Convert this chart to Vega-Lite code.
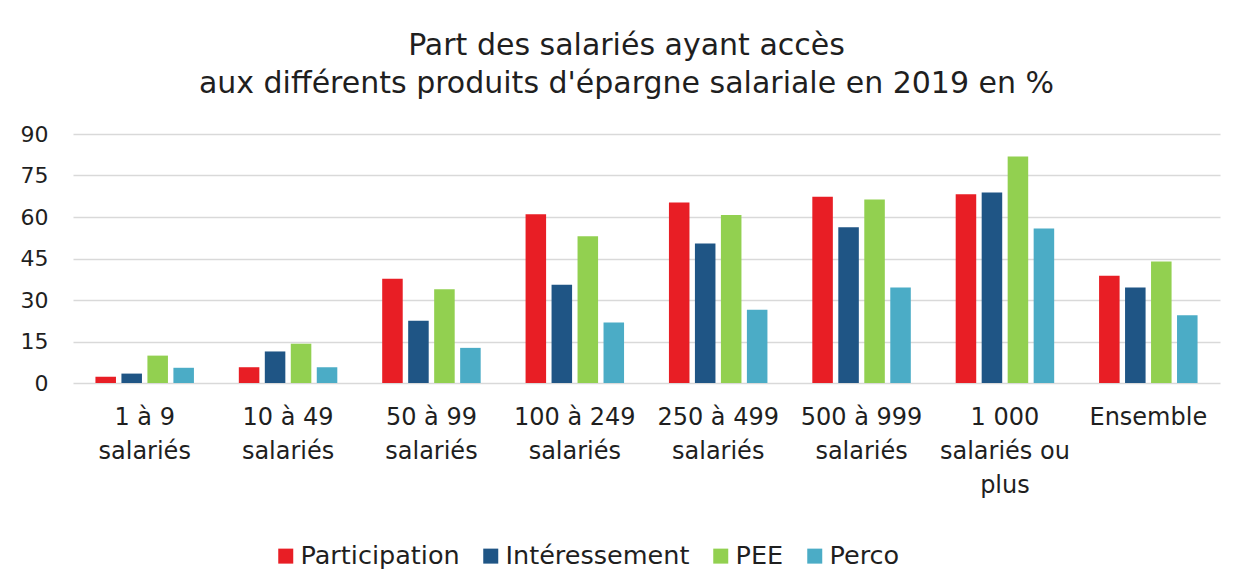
{
  "$schema": "https://vega.github.io/schema/vega-lite/v6.json",
  "width": 1147,
  "height": 249,
  "autosize": {"type": "none"},
  "padding": {"left": 73, "top": 134, "right": 30, "bottom": 193},
  "background": "white",
  "title": {
    "text": ["Part des salariés ayant accès", "aux différents produits d'épargne salariale en 2019 en %"],
    "font": "DejaVu Sans",
    "fontSize": 30,
    "fontWeight": "normal",
    "color": "#1f1f1f",
    "lineHeight": 38,
    "anchor": "middle",
    "dx": -20,
    "offset": 24
  },
  "data": {
    "values": [
      {"taille": "1 à 9 salariés", "produit": "Participation", "part": 2.3},
      {"taille": "1 à 9 salariés", "produit": "Intéressement", "part": 3.4},
      {"taille": "1 à 9 salariés", "produit": "PEE", "part": 9.9},
      {"taille": "1 à 9 salariés", "produit": "Perco", "part": 5.5},
      {"taille": "10 à 49 salariés", "produit": "Participation", "part": 5.7},
      {"taille": "10 à 49 salariés", "produit": "Intéressement", "part": 11.4},
      {"taille": "10 à 49 salariés", "produit": "PEE", "part": 14.2},
      {"taille": "10 à 49 salariés", "produit": "Perco", "part": 5.7},
      {"taille": "50 à 99 salariés", "produit": "Participation", "part": 37.7},
      {"taille": "50 à 99 salariés", "produit": "Intéressement", "part": 22.5},
      {"taille": "50 à 99 salariés", "produit": "PEE", "part": 33.9},
      {"taille": "50 à 99 salariés", "produit": "Perco", "part": 12.7},
      {"taille": "100 à 249 salariés", "produit": "Participation", "part": 61.0},
      {"taille": "100 à 249 salariés", "produit": "Intéressement", "part": 35.5},
      {"taille": "100 à 249 salariés", "produit": "PEE", "part": 53.0},
      {"taille": "100 à 249 salariés", "produit": "Perco", "part": 21.9},
      {"taille": "250 à 499 salariés", "produit": "Participation", "part": 65.2},
      {"taille": "250 à 499 salariés", "produit": "Intéressement", "part": 50.4},
      {"taille": "250 à 499 salariés", "produit": "PEE", "part": 60.7},
      {"taille": "250 à 499 salariés", "produit": "Perco", "part": 26.5},
      {"taille": "500 à 999 salariés", "produit": "Participation", "part": 67.3},
      {"taille": "500 à 999 salariés", "produit": "Intéressement", "part": 56.3},
      {"taille": "500 à 999 salariés", "produit": "PEE", "part": 66.3},
      {"taille": "500 à 999 salariés", "produit": "Perco", "part": 34.5},
      {"taille": "1 000 salariés ou plus", "produit": "Participation", "part": 68.2},
      {"taille": "1 000 salariés ou plus", "produit": "Intéressement", "part": 68.9},
      {"taille": "1 000 salariés ou plus", "produit": "PEE", "part": 81.9},
      {"taille": "1 000 salariés ou plus", "produit": "Perco", "part": 55.8},
      {"taille": "Ensemble", "produit": "Participation", "part": 38.8},
      {"taille": "Ensemble", "produit": "Intéressement", "part": 34.5},
      {"taille": "Ensemble", "produit": "PEE", "part": 43.9},
      {"taille": "Ensemble", "produit": "Perco", "part": 24.5}
    ]
  },
  "mark": {"type": "bar"},
  "encoding": {
    "x": {
      "field": "taille",
      "type": "nominal",
      "sort": ["1 à 9 salariés", "10 à 49 salariés", "50 à 99 salariés", "100 à 249 salariés", "250 à 499 salariés", "500 à 999 salariés", "1 000 salariés ou plus", "Ensemble"],
      "scale": {"paddingInner": 0.275, "paddingOuter": 0.1375},
      "axis": {
        "title": null,
        "labelAngle": 0,
        "labelFont": "DejaVu Sans",
        "labelFontSize": 24,
        "labelColor": "#1f1f1f",
        "labelBaseline": "top",
        "labelLineHeight": 34,
        "labelPadding": 22,
        "ticks": false,
        "domain": false,
        "labelExpr": "datum.label == 'Ensemble' ? 'Ensemble' : datum.label == '1 000 salariés ou plus' ? ['1 000', 'salariés ou', 'plus'] : [replace(datum.label, ' salariés', ''), 'salariés']"
      }
    },
    "xOffset": {
      "field": "produit",
      "type": "nominal",
      "sort": ["Participation", "Intéressement", "PEE", "Perco"],
      "scale": {"paddingInner": 0.21, "paddingOuter": 0.105}
    },
    "y": {
      "field": "part",
      "type": "quantitative",
      "scale": {"domain": [0, 90], "nice": false},
      "axis": {
        "title": null,
        "values": [0, 15, 30, 45, 60, 75, 90],
        "labelFont": "DejaVu Sans",
        "labelFontSize": 22,
        "labelColor": "#1f1f1f",
        "labelPadding": 25,
        "ticks": false,
        "domain": false,
        "gridColor": "#d9d9d9",
        "gridWidth": 1.4
      }
    },
    "color": {
      "field": "produit",
      "type": "nominal",
      "sort": ["Participation", "Intéressement", "PEE", "Perco"],
      "scale": {
        "domain": ["Participation", "Intéressement", "PEE", "Perco"],
        "range": ["#E81E25", "#1F5585", "#92D050", "#4BACC6"]
      },
      "legend": {
        "title": null,
        "orient": "none",
        "direction": "horizontal",
        "legendX": 200,
        "legendY": 409,
        "symbolType": "square",
        "symbolSize": 225,
        "symbolStrokeWidth": 0,
        "labelFont": "DejaVu Sans",
        "labelFontSize": 25.5,
        "labelLimit": 0,
        "labelColor": "#1f1f1f",
        "labelOffset": 2,
        "columnPadding": 18,
        "padding": 0
      }
    }
  },
  "config": {
    "view": {"stroke": null}
  }
}
